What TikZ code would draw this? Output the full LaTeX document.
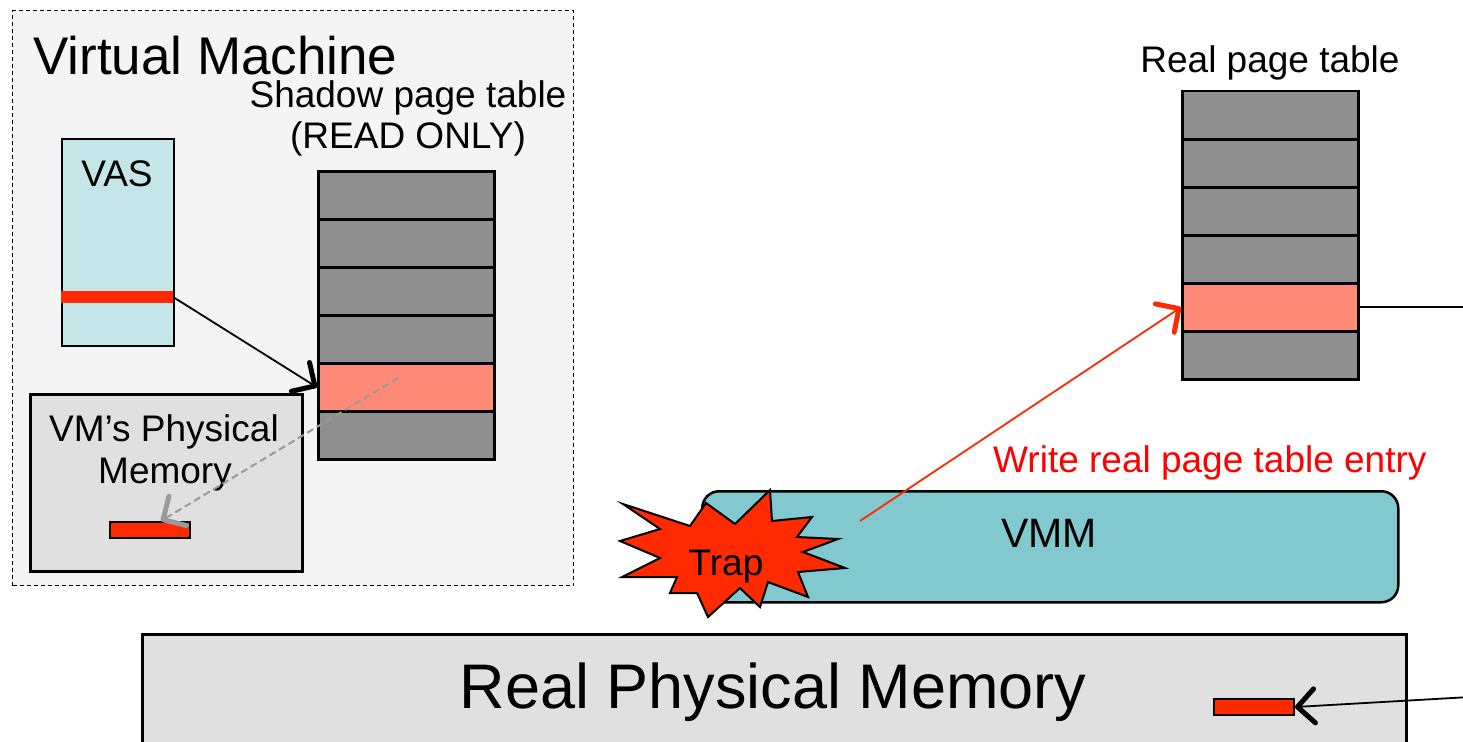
\documentclass[tikz,border=0pt]{standalone}
\usepackage{fontspec}
\setmainfont{Liberation Sans}
\usetikzlibrary{arrows.meta,calc}
\definecolor{vmback}{HTML}{F4F4F4}
\definecolor{vascol}{HTML}{C5E6E8}
\definecolor{rowgray}{HTML}{8F8F8F}
\definecolor{salmon}{HTML}{FF8A78}
\definecolor{hotred}{HTML}{FF2A00}
\definecolor{memgray}{HTML}{E0E0E0}
\definecolor{vmmcol}{HTML}{82C8CF}
\definecolor{dashgray}{HTML}{9A9A9A}
\begin{document}
\begin{tikzpicture}[x=1pt,y=-1pt,
  lab/.style={font=\fontsize{37}{42}\selectfont, inner sep=0},
  bigtxt/.style={font=\fontsize{53}{60}\selectfont, inner sep=0},
  ptrow/.style={draw, line width=2.5pt, minimum width=176pt, minimum height=48pt, inner sep=0, anchor=north west},
  membar/.style={draw, line width=2pt, fill=hotred, minimum width=80pt, minimum height=16pt, inner sep=0, anchor=north west},
  barb/.tip={Straight Barb[length=17pt,width=34pt,line width=5pt 0,round]},
  blackarrow/.style={line width=1.8pt, -barb},
  grayarrow/.style={draw=dashgray, line width=2pt, dash pattern=on 7pt off 4pt, -barb},
  redarrow/.style={draw=hotred, line width=1.8pt, -barb}
]
\useasboundingbox (0,0) rectangle (1463,741);
\clip (0,0) rectangle (1463,741);

% virtual machine frame
\node[draw, fill=vmback, line width=1.3pt, dash pattern=on 4pt off 3pt,
      minimum width=561pt, minimum height=575pt, inner sep=0, anchor=north west] (vm) at (12,10) {};
\node[bigtxt, anchor=base west] (vmlabel) at (33,75) {Virtual Machine};

% guest virtual address space
\node[draw, fill=vascol, line width=2pt, minimum width=112pt, minimum height=207pt, inner sep=0, anchor=north west] (vas) at (61,138) {};
\node[lab, anchor=base] (vaslabel) at (117,186) {VAS};
\node[fill=hotred, minimum width=112pt, minimum height=12pt, inner sep=0, anchor=north west] (vasbar) at (61,291) {};

% shadow page table
\node[lab, anchor=base] (shlabel) at (408,108) {Shadow page table};
\node[lab, anchor=base] (shro) at (408,148) {(READ ONLY)};
\foreach \i/\c in {1/rowgray,2/rowgray,3/rowgray,4/rowgray,5/salmon,6/rowgray}
  \node[ptrow, fill=\c] (s\i) at (317,{170+48*(\i-1)}) {};

% guest physical memory
\node[draw, fill=memgray, line width=2.5pt, minimum width=272pt, minimum height=177pt, inner sep=0, anchor=north west] (vmpm) at (29,393) {};
\node[lab, anchor=base] (vmpmlabel) at (164,441) {VM’s Physical};
\node[lab, anchor=base] (vmpmlabel2) at (165,483) {Memory};
\node[membar] (vmbar) at (109,521) {};

\coordinate (dstart) at (398,378);
\coordinate (dend) at ($(vmbar.north)+(11,0)$);
\draw[grayarrow] (dstart) -- (dend);
\draw[blackarrow] (vasbar.east) -- (s5.west);

% real page table
\node[lab, anchor=base] (rlabel) at (1270,73) {Real page table};
\foreach \i/\c in {1/rowgray,2/rowgray,3/rowgray,4/rowgray,5/salmon,6/rowgray}
  \node[ptrow, fill=\c] (r\i) at (1181,{90+48*(\i-1)}) {};
\coordinate (rexit) at ($(r5.east)+(120,0)$);
\draw[line width=2pt] (r5.east) -- (rexit);

% VMM with trap burst
\node[draw, fill=vmmcol, line width=2.5pt, rounded corners=17pt, minimum width=696pt, minimum height=111pt, inner sep=0, anchor=north west] (vmm) at (701,490) {};
\node[font=\fontsize{41}{46}\selectfont, inner sep=0, anchor=base] (vmmlabel) at (1049,547) {VMM};
\draw[fill=hotred, line width=2pt, line join=miter]
  (623,504) -- (690,526) -- (706,503) -- (735,524) -- (770,490) -- (772,521)
  -- (812,517) -- (797,537) -- (838,539) -- (803,552) -- (845,568) -- (798,572)
  -- (808,597) -- (768,582) -- (760,607) -- (740,588) -- (708,617) -- (697,593)
  -- (670,593) -- (677,577) -- (622,577) -- (660,558) -- (620,541) -- (660,529) -- cycle;
\node[lab, anchor=base] (trap) at (726,575) {Trap};

% write to the real table
\node[lab, text=red, anchor=base west] (wlabel) at (993,472) {Write real page table entry};
\coordinate (wstart) at (860,521);
\draw[redarrow] (wstart) -- (r5.west);

% host physical memory
\node[draw, fill=memgray, line width=2.5pt, minimum width=1264pt, minimum height=140pt, inner sep=0, anchor=north west] (rpm) at (141,633) {};
\node[font=\fontsize{63}{70}\selectfont, inner sep=0, anchor=base] (rpmlabel) at (773,708) {Real Physical Memory};
\node[membar] (rbar) at (1213,698) {};
\coordinate (rin) at (1470,697);
\draw[blackarrow] (rin) -- (rbar.east);
\end{tikzpicture}
\end{document}
